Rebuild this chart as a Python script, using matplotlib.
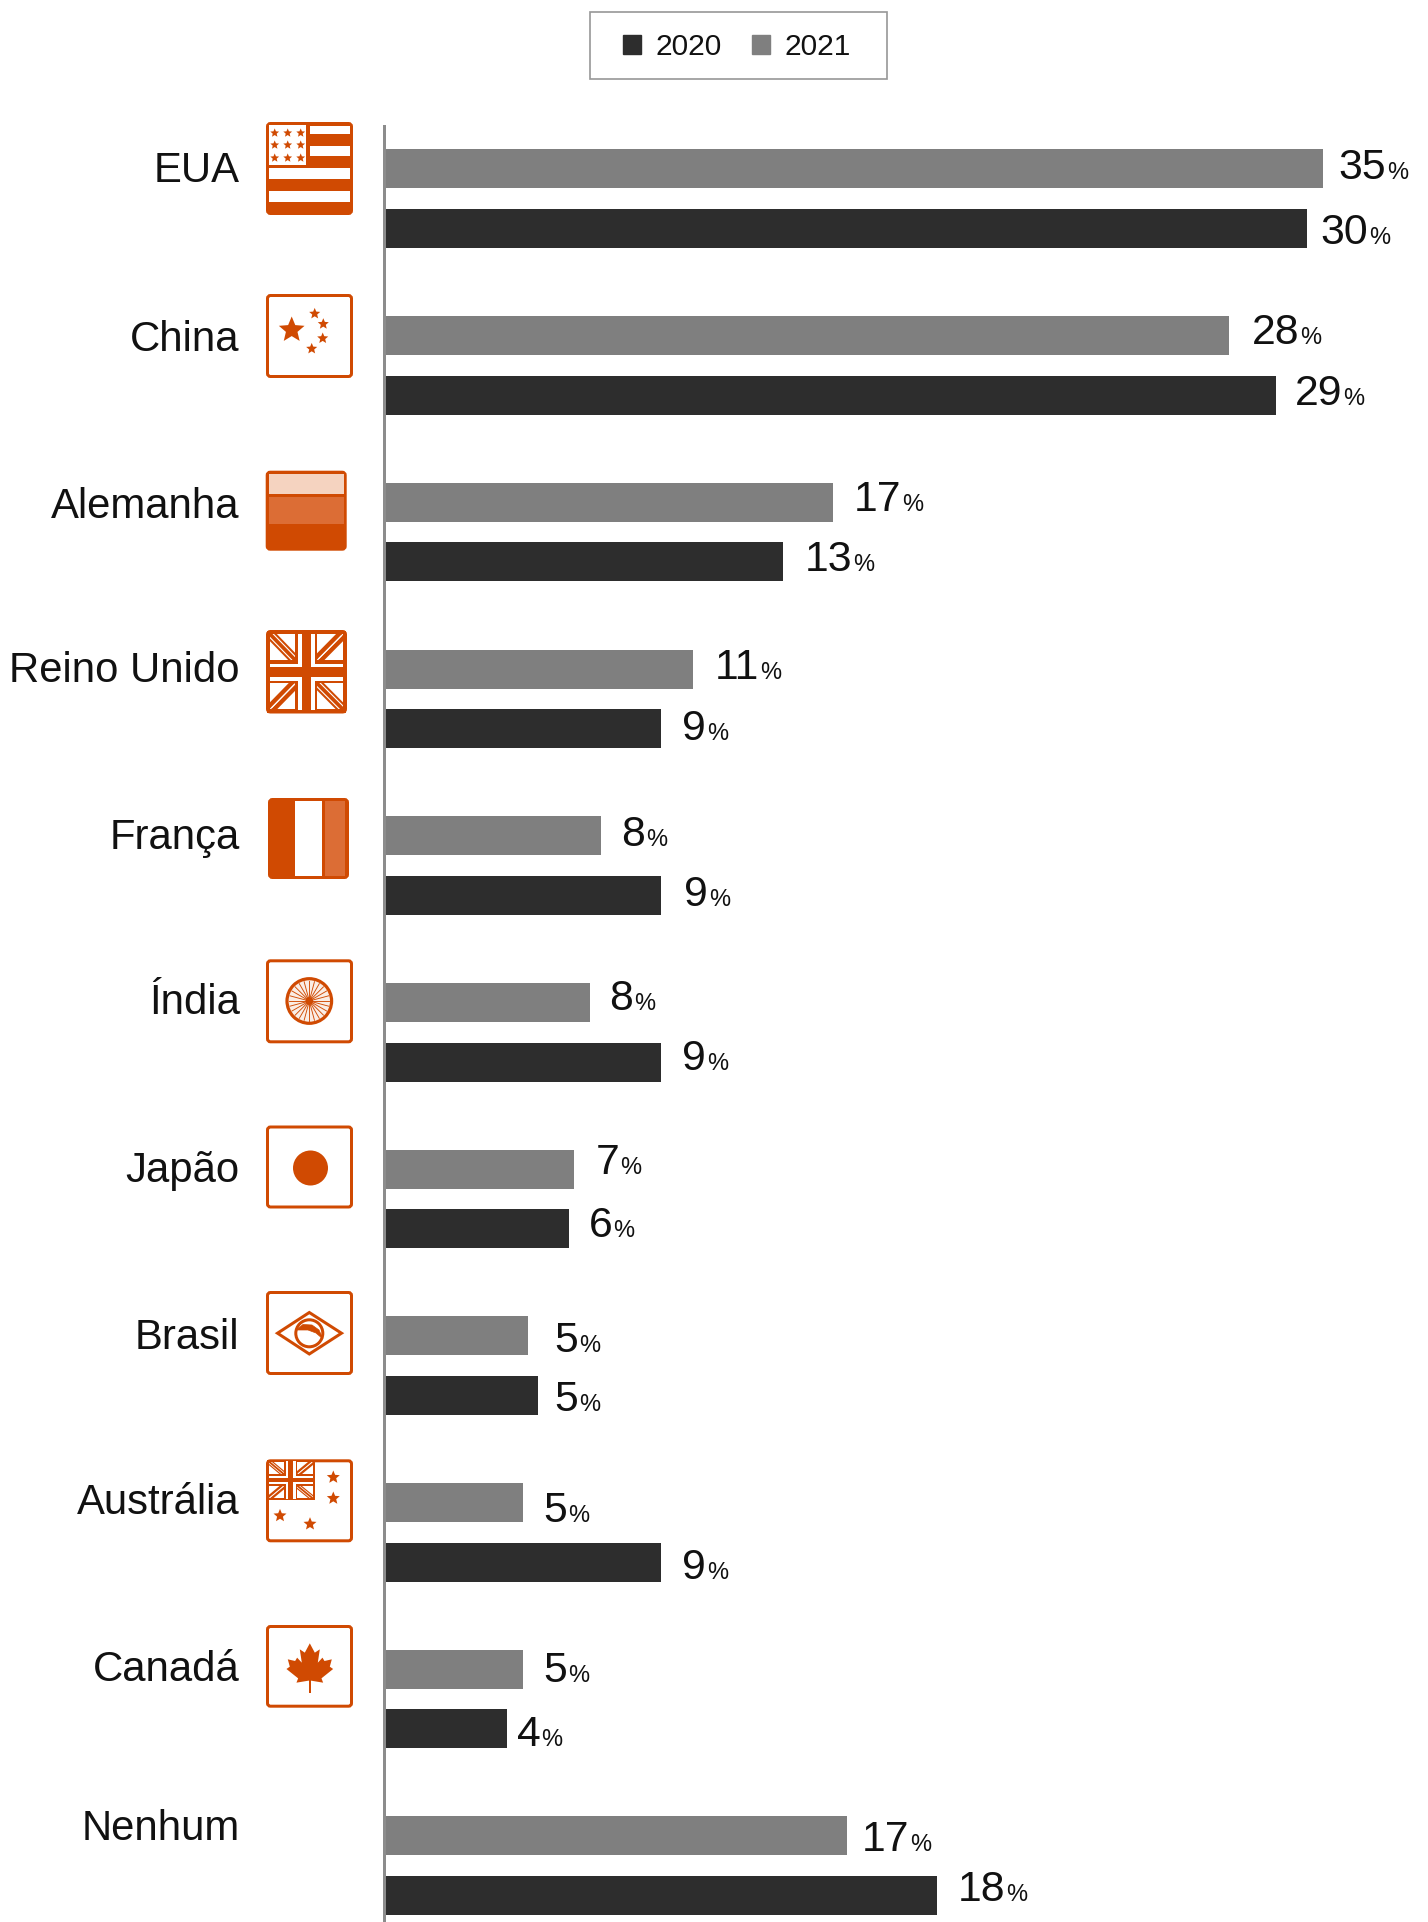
import numpy as np
import matplotlib
matplotlib.use("Agg")
import matplotlib.pyplot as plt
from matplotlib.patches import Rectangle, FancyBboxPatch, Polygon, Circle, Patch
from matplotlib.transforms import ScaledTranslation

plt.rcParams['font.family'] = ['Liberation Sans', 'DejaVu Sans']

# ---- data ----
categories = ["EUA", "China", "Alemanha", "Reino Unido", "França", "Índia",
              "Japão", "Brasil", "Austrália", "Canadá", "Nenhum"]
labels_2021 = [35, 28, 17, 11, 8, 8, 7, 5, 5, 5, 17]
labels_2020 = [30, 29, 13, 9, 9, 9, 6, 5, 9, 4, 18]
# bar lengths as drawn in the picture (not proportional to the printed labels)
bars_2021 = [939, 845, 449, 309, 217, 206, 190, 144, 139, 139, 463]
bars_2020 = [923, 892, 399, 277, 277, 277, 185, 154, 277, 123, 553]

# ---- layout (pixels) ----
gap_2021 = [16, 23, 21, 22, 21, 20, 22, 27, 21, 21, 15]
gap_2020 = [14, 19, 22, 22, 24, 22, 20, 17, 22, 10, 21]
dy_2021 = [-5, -7, -6, -5, -5, -7, -10, 1, 5, -2, 0]
dy_2020 = [0, -5, -6, -4, -4, -7, -7, 1, 2, 2, -9]
dy_cat = [-32, -29, -29, -32, -32, -33, -32, -32, -33, -33, -41]

W, H, DPI = 1428, 1922, 100
PX = 72 / DPI
DARK, GREY = "#2D2D2D", "#7F7F7F"
OR, MID, LIGHT = "#D04A02", "#DC6D35", "#F5D3C0"
STEP, Y0, AX_L = 166.7, 198.7, 383.5

fig = plt.figure(figsize=(W / DPI, H / DPI), dpi=DPI)
ax = fig.add_axes([AX_L / W, 0, 1 - AX_L / W, 1])
ax.set_xlim(0, W - AX_L)
ax.set_ylim((H - Y0) / STEP, -Y0 / STEP)
idx = np.arange(len(categories))
off, bh = 29.8 / STEP, 39 / STEP
ax.barh(idx - off, bars_2021, height=bh, color=GREY, label="2021")
ax.barh(idx + off, bars_2020, height=bh, color=DARK, label="2020")

for s in ("top", "right", "bottom"):
    ax.spines[s].set_visible(False)
ax.spines["left"].set_color("#8C8C8C")
ax.spines["left"].set_linewidth(3 * PX)
ax.spines["left"].set_bounds((126 - Y0) / STEP, (H - Y0) / STEP)
ax.spines["left"].set_zorder(5)
ax.set_xticks([])
ax.set_yticks(idx, categories)
ax.tick_params(axis="y", length=0, pad=144 * PX, labelsize=30.2, labelcolor="#111111")
for lab, d in zip(ax.get_yticklabels(), dy_cat):
    lab.set_va("baseline")
    lab.set_transform(lab.get_transform() + ScaledTranslation(0, -(d + 15) * PX / 72, fig.dpi_scale_trans))

rend = fig.canvas.get_renderer()
def value_label(x, y, val, gap, dy):
    dyy = -(dy + 15) * PX
    t = ax.annotate(str(val), xy=(x, y), xytext=(gap * PX, dyy), textcoords="offset points",
                    fontsize=30.8, va="baseline", ha="left", color="#111111")
    w = t.get_window_extent(rend).width
    ax.annotate("%", xy=(x, y), xytext=((gap + w + 1) * PX, dyy), textcoords="offset points",
                fontsize=17, va="baseline", ha="left", color="#111111")

for i in idx:
    value_label(bars_2021[i], i - off, labels_2021[i], gap_2021[i], dy_2021[i])
    value_label(bars_2020[i], i + off, labels_2020[i], gap_2020[i], dy_2020[i])

# ---- legend ----
leg = fig.legend(handles=[Patch(color=DARK, label="2020"), Patch(color=GREY, label="2021")],
                 loc="center", bbox_to_anchor=(737 / W, 1 - 47 / H), ncol=2, fontsize=21.5,
                 frameon=False, handlelength=0.6, handleheight=0.6, handletextpad=0.48,
                 columnspacing=1.02, borderpad=0, borderaxespad=0)
plt.setp(leg.get_texts(), color="#111111")

# ---- flag icons, drawn in a full-figure pixel overlay ----
ic = fig.add_axes([0, 0, 1, 1], facecolor="none")
ic.set_xlim(0, W)
ic.set_ylim(H, 0)
ic.axis("off")
LW = 3 * PX

# legend frame
ic.add_patch(Rectangle((589.5, 12), 297, 67, fc="none", ec="#999999", lw=1.7 * PX, zorder=1))

def rect(x0, y0, x1, y1, c, z=3):
    ic.add_patch(Rectangle((x0, y0), x1 - x0, y1 - y0, fc=c, ec="none", zorder=z))

def box(x0, y0, x1, y1, fc="white"):
    i = 1.5
    ic.add_patch(FancyBboxPatch((x0 + i + 2, y0 + i + 2), x1 - x0 - 2 * i - 4, y1 - y0 - 2 * i - 4,
                                boxstyle="round,pad=2,rounding_size=3", fc=fc, ec=OR, lw=LW, zorder=2))

def star(cx, cy, R, c=OR):
    a = np.deg2rad(-90 + 36 * np.arange(10))
    r = np.where(np.arange(10) % 2 == 0, R, R * 0.45)
    ic.add_patch(Polygon(np.c_[cx + r * np.cos(a), cy + r * np.sin(a)], fc=c, ec="none", zorder=4))

def union(x0, y0, x1, y1, thin=1.1, dw=10, sep=1.7):
    W_, H_ = x1 - x0, y1 - y0
    X = lambda u: x0 + u * W_
    Y = lambda v: y0 + v * H_
    rect(x0, y0, x1, y1, OR, 3)
    quads = [(0.04, 0.04, 0.36, 0.36, 0, 0), (0.634, 0.04, 0.96, 0.36, 1, 0),
             (0.04, 0.642, 0.36, 0.96, 0, 1), (0.634, 0.642, 0.96, 0.96, 1, 1)]
    for a, b, c, d, fx, fy in quads:
        rect(X(a), Y(b), X(c), Y(d), "white", 3.1)
        q = Rectangle((X(a), Y(b)), X(c) - X(a), Y(d) - Y(b), transform=ic.transData)
        xs = [X(a), X(c)] if fx == fy else [X(c), X(a)]
        ln, = ic.plot(xs, [Y(b), Y(d)], color=OR, lw=dw * PX, zorder=3.2, solid_capstyle="projecting")
        ln.set_clip_path(q)
        for s in (-sep, sep):
            ln, = ic.plot([xs[0] + s, xs[1] + s], [Y(b) - s, Y(d) - s], color="white", lw=thin * PX,
                          zorder=3.3, solid_capstyle="projecting")
            ln.set_clip_path(q)
    for a, b in ((0.39, 0.445), (0.555, 0.61)):
        rect(X(a), y0, X(b), y1, "white", 3.4)
    for a, b in ((0.40, 0.44), (0.56, 0.61)):
        rect(x0, Y(a), x1, Y(b), "white", 3.4)
    # outer frame and central cross
    rect(X(0.445), y0, X(0.555), y1, OR, 3.5)
    rect(x0, Y(0.44), x1, Y(0.56), OR, 3.5)
    rect(x0, y0, x1, Y(0.035), OR, 3.5)
    rect(x0, Y(0.965), x1, y1, OR, 3.5)
    rect(x0, y0, X(0.035), y1, OR, 3.5)
    rect(X(0.965), y0, x1, y1, OR, 3.5)

# USA
box(266, 122, 353, 215, OR)
rect(269, 125, 350, 212.5, OR)
for a, b, c, d in ((309.5, 126, 350, 134), (309.5, 146, 350, 156), (269, 168, 350, 179), (269, 190.7, 350, 201.7)):
    rect(a, b, c, d, "white")
rect(269, 125, 306, 165, "white")
for sx in (274.7, 287.7, 300.7):
    for sy in (133, 145, 158):
        star(sx, sy, 4.6)

# China
box(266, 294, 353, 378)
star(291.7, 330, 13.5)
for sx, sy in ((314.7, 313.7), (323.3, 324), (322.7, 338.3), (311.7, 348.7)):
    star(sx, sy, 5.8)

# Germany
box(265.7, 470.7, 346.7, 550.7, OR)
rect(269, 474, 344, 494, LIGHT)
rect(269, 497.3, 344, 524, MID)

# UK
box(266, 630, 347, 713.5, OR)
union(267, 631, 346, 712.5)

# France
box(268, 798, 349, 879, OR)
rect(295, 801.3, 321.7, 876, "white")
rect(325, 801.3, 345.3, 876, MID)

# India
box(266, 959.3, 353, 1043.3)
ic.add_patch(Circle((309.3, 1001), 22.3, fc="#FAEDE5", ec=OR, lw=3.2 * PX, zorder=3))
for a in np.deg2rad(np.arange(0, 360, 15)):
    ic.plot([309.3, 309.3 + 20 * np.cos(a)], [1001, 1001 + 20 * np.sin(a)], color=OR, lw=0.9 * PX, zorder=3.2)
ic.add_patch(Circle((309.3, 1001), 3.8, fc=OR, ec="none", zorder=3.3))

# Japan
box(266, 1125.5, 353, 1208.5)
ic.add_patch(Circle((310.5, 1168), 17.5, fc=OR, ec="none", zorder=3))

# Brazil
box(266, 1291, 353, 1375)
ic.add_patch(Polygon([(277.5, 1333.2), (309.3, 1312.5), (341.5, 1333.2), (309.3, 1354)], fc="white", ec=OR, lw=LW, zorder=3))
ic.add_patch(Circle((309.3, 1333.3), 13.5, fc="white", ec=OR, lw=LW, zorder=3.1))
ic.add_patch(Polygon([(296, 1330), (303, 1324.5), (312, 1325), (319, 1330), (323, 1339),
                      (316, 1333), (308, 1330), (300, 1330)], fc=OR, ec=OR, lw=0.5, zorder=3.2))

# Australia
box(266, 1459.3, 353, 1542.3)
union(267, 1460, 314.7, 1500, thin=0.7, dw=5.5, sep=0.9)
for sx, sy, R in ((333.3, 1477.3, 6.8), (333.3, 1498.3, 6.8), (280, 1515.7, 6.8), (310, 1524, 6.8)):
    star(sx, sy, R)

# Canada
box(266, 1625, 353, 1707.7)
half = [(0, 1120), (15, 1148), (30, 1138), (24, 1178), (38, 1163), (44, 1173), (66, 1168),
        (60, 1190), (70, 1197), (35, 1225), (40, 1238), (4, 1232)]
pts = [(309.8 + dx / 3, 1270 + yy / 3) for dx, yy in half]
pts += [(309.8 - dx / 3, 1270 + yy / 3) for dx, yy in half[:0:-1]]
ic.add_patch(Polygon(pts, fc=OR, ec="none", zorder=3))
rect(308.6, 1670, 311, 1692.7, OR)

fig.savefig("out.png", dpi=DPI)
